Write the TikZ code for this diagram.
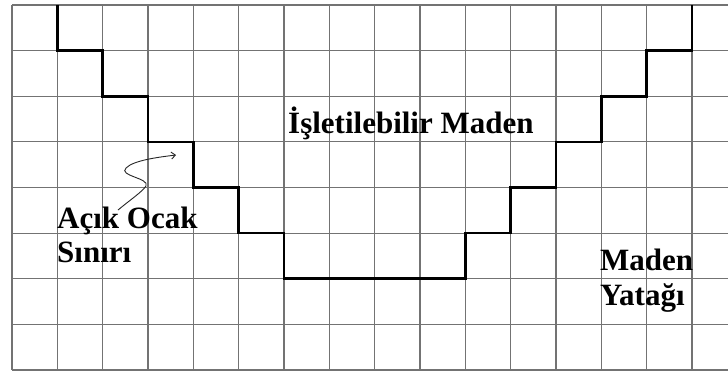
\documentclass[tikz,border=0pt]{standalone}
\usepackage{fontspec}
\setmainfont{Liberation Serif}
\usetikzlibrary{arrows.meta}
\begin{document}
\begin{tikzpicture}[x=1pt,y=-1pt,
  gridline/.style={draw=black!55, line width=1.2pt},
  stair/.style={draw=black, line width=2.6pt, line join=miter},
  lbl/.style={anchor=base west, inner sep=0pt, font=\fontsize{31}{34}\selectfont\bfseries},
  pointer/.style={draw=black!85, line width=0.9pt, -{Straight Barb[length=4pt,width=7pt]}}]
\useasboundingbox[fill=white] (0,0) rectangle (728,372);
% grid
\foreach \c in {0,...,15}
  \draw[gridline] ({12+45.333*\c},5) -- ({12+45.333*\c},370);
\foreach \r in {0,...,8}
  \draw[gridline] (12,{5+45.625*\r}) -- (728,{5+45.625*\r});
% pit boundary
\draw[stair] (57.3,5) -- (57.3,50.6) -- (102.7,50.6) -- (102.7,96.25) -- (148,96.25) -- (148,141.9) -- (193.3,141.9) -- (193.3,187.5) -- (238.7,187.5) -- (238.7,233.1) -- (284,233.1) -- (284,278.75) -- (465.3,278.75) -- (465.3,233.1) -- (510.7,233.1) -- (510.7,187.5) -- (556,187.5) -- (556,141.9) -- (601.3,141.9) -- (601.3,96.25) -- (646.7,96.25) -- (646.7,50.6) -- (692,50.6) -- (692,5);
% labels
\node[lbl] (isl) at (288,133) {İşletilebilir Maden};
\node[lbl] (acik) at (57,228) {Açık Ocak};
\node[lbl] (sin) at (57,262) {Sınırı};
\node[lbl] (mad) at (600,270) {Maden};
\node[lbl] (yat) at (600,305) {Yatağı};
% pointer
\coordinate (pstart) at (118,210);
\coordinate (ptip) at (176,155);
\draw[pointer] (pstart) .. controls (130,200) and (142,192) .. (146,186)
  .. controls (150,178) and (118,176) .. (126,168)
  .. controls (134,160) and (160,157) .. (ptip);
\end{tikzpicture}
\end{document}
